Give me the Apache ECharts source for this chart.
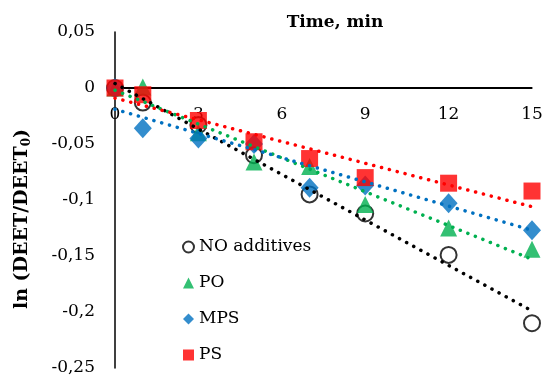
<!DOCTYPE html>
<html>
<head>
<meta charset="utf-8">
<script src="https://cdn.jsdelivr.net/npm/echarts@6/dist/echarts.min.js"></script>
<style>html,body{margin:0;padding:0;background:#fff}#c{width:546px;height:378px}</style>
</head>
<body>
<div id="c"></div>
<script>
var times = [0, 1, 3, 5, 7, 9, 12, 15];
var noAdditives = [0, -0.013, -0.033, -0.060, -0.095, -0.112, -0.149, -0.210];
var po = [0, 0.001, -0.040, -0.066, -0.070, -0.104, -0.125, -0.144];
var mps = [0, -0.036, -0.045, -0.050, -0.089, -0.087, -0.103, -0.127];
var ps = [0, -0.006, -0.029, -0.048, -0.063, -0.080, -0.085, -0.092];
var trendTimes = [0, 15];
var trendNoAdditives = [0.004, -0.199];
var trendPO = [-0.002, -0.153];
var trendMPS = [-0.019, -0.127];
var trendPS = [-0.009, -0.106];
var yTicks = [-0.25, -0.2, -0.15, -0.1, -0.05, 0, 0.05];
var xTicks = [0, 3, 6, 9, 12, 15];

function pairs(xs, ys) { return xs.map(function (x, i) { return [x, ys[i]]; }); }
var FONT = 'DejaVu Serif';
var dotted = function (color) {
  return { color: color, width: 3.5, type: [0.1, 8], cap: 'round' };
};
function trend(name, ys, color) {
  return {
    name: name, type: 'line', data: pairs(trendTimes, ys), symbol: 'none',
    lineStyle: dotted(color), z: 5, silent: true
  };
}
// split line colours: only the line at ln = 0 is drawn (it acts as the time axis line)
var splitColors = yTicks.map(function (v) { return Math.abs(v) < 1e-9 ? '#000' : 'rgba(0,0,0,0)'; });
var chart = echarts.init(document.getElementById('c'));
chart.setOption({
  animation: false,
  grid: { left: 115, right: 14, top: 32, bottom: 10, containLabel: false, outerBoundsMode: 'none' },
  xAxis: {
    type: 'value', position: 'top', offset: -56,
    min: xTicks[0], max: xTicks[xTicks.length - 1], interval: 3,
    axisLine: { show: true, onZero: false, lineStyle: { color: '#000', width: 1.5 } },
    axisTick: { show: false }, splitLine: { show: false },
    axisLabel: { inside: true, margin: 18, fontFamily: FONT, fontSize: 17, color: '#000' },
    name: 'Time, min', nameLocation: 'middle', nameGap: 57,
    nameTextStyle: { fontFamily: FONT, fontSize: 17, fontWeight: 'bold', color: '#000', padding: [0, 0, 0, 23] }
  },
  yAxis: {
    type: 'value', min: yTicks[0], max: yTicks[yTicks.length - 1], interval: 0.05,
    axisLine: { show: true, onZero: false, lineStyle: { color: '#000', width: 1.5 } },
    axisTick: { show: false },
    splitLine: { show: true, lineStyle: { color: splitColors, width: 1.6, type: 'solid' } },
    axisLabel: {
      margin: 20, fontFamily: FONT, fontSize: 17, color: '#000',
      formatter: function (v) { return String(+v.toFixed(2)).replace('.', ','); }
    },
    name: '{b|ln (DEET/DEET}{s|0}{b|)}', nameLocation: 'middle', nameGap: 82, nameRotate: 90,
    nameTextStyle: {
      padding: [0, 38, 0, 0],
      rich: {
        b: { fontFamily: FONT, fontSize: 19, fontWeight: 'bold', color: '#000', lineHeight: 22 },
        s: { fontFamily: FONT, fontSize: 12, fontWeight: 'bold', color: '#000', lineHeight: 22, verticalAlign: 'bottom', padding: [10, 0, 0, 0] }
      }
    }
  },
  legend: {
    orient: 'vertical', left: 182, top: 237, padding: 0, itemGap: 16, itemWidth: 11, itemHeight: 11,
    data: ['NO additives', 'PO', 'MPS', 'PS'],
    textStyle: { fontFamily: FONT, fontSize: 17, color: '#000', lineHeight: 20 }
  },
  series: [
    { name: 'NO additives', type: 'scatter', data: pairs(times, noAdditives), symbol: 'circle', symbolSize: 16,
      itemStyle: { color: '#fff', borderColor: '#000', borderWidth: 2 } },
    { name: 'PO', type: 'scatter', data: pairs(times, po), symbol: 'triangle', symbolSize: 17,
      itemStyle: { color: '#00B050' } },
    { name: 'MPS', type: 'scatter', data: pairs(times, mps), symbol: 'diamond', symbolSize: [18, 20],
      itemStyle: { color: '#0070C0' } },
    { name: 'PS', type: 'scatter', data: pairs(times, ps), symbol: 'rect', symbolSize: 17,
      itemStyle: { color: '#FF0000' } },
    trend('t1', trendNoAdditives, '#000'),
    trend('t2', trendPO, '#00B050'),
    trend('t3', trendMPS, '#0070C0'),
    trend('t4', trendPS, '#FF0000')
  ]
});
var p0 = chart.convertToPixel({ gridIndex: 0 }, [xTicks[0], 0]);
var p1 = chart.convertToPixel({ gridIndex: 0 }, [xTicks[xTicks.length - 1], 0]);
chart.setOption({
  graphic: [{
    type: 'rect', silent: true, z: 1,
    shape: { x: p0[0], y: p0[1] - 1, width: p1[0] - p0[0], height: 2 },
    style: { fill: '#000' }
  }]
});
</script>
</body>
</html>
